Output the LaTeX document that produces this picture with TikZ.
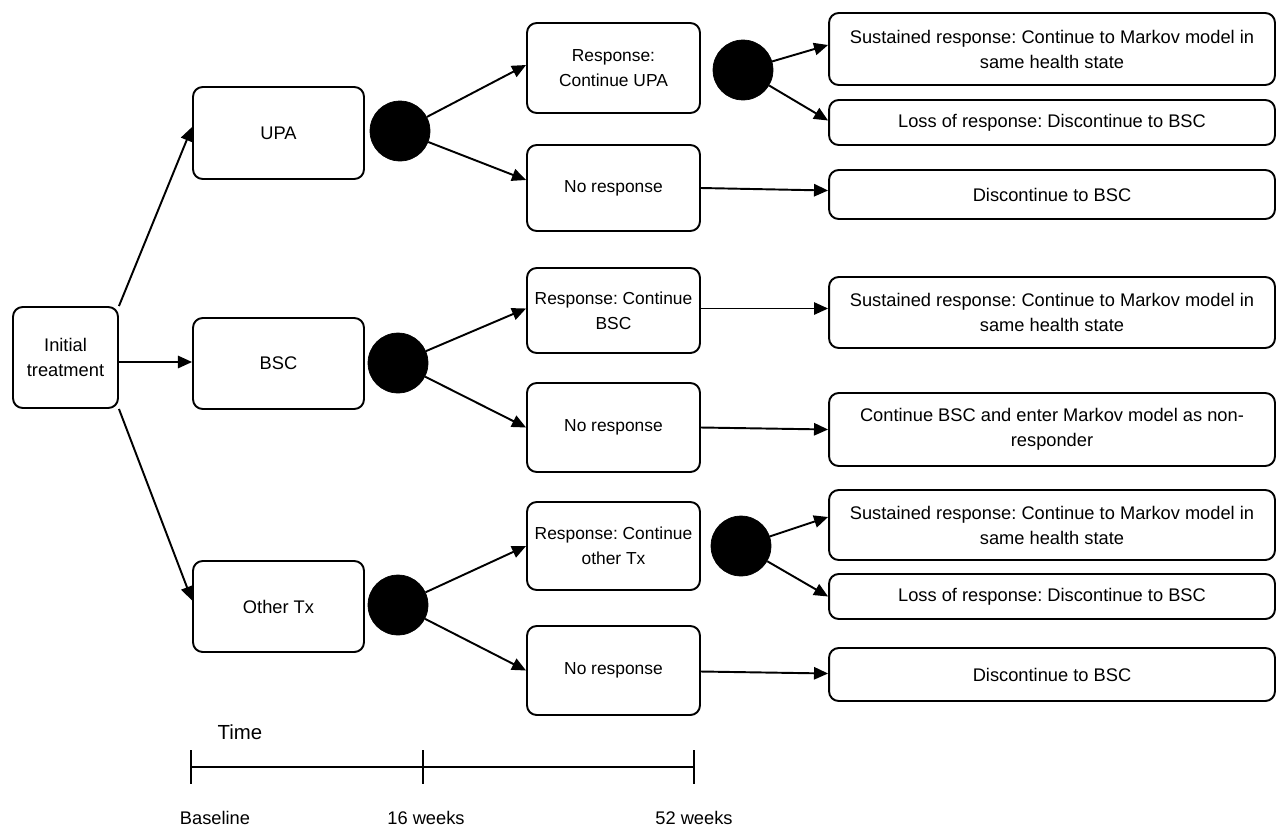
\documentclass[tikz,border=0pt]{standalone}
\usepackage{fontspec}
\setmainfont{Liberation Sans}
\frenchspacing
\usetikzlibrary{arrows.meta,calc}
\begin{document}
\begin{tikzpicture}[x=0.02cm,y=-0.02cm,
  every node/.style={font=\fontsize{10.4}{14.2}\selectfont},
  box/.style={draw,line width=1.1pt,rounded corners=5.5pt,align=center,inner sep=2pt},
  midbox/.style={box,font=\fontsize{9.9}{14.2}\selectfont},
  chance/.style={circle,fill=black,draw=black,minimum size=1.2cm,inner sep=0pt},
  arr/.style={line width=1.1pt,-{Triangle[length=8pt,width=7pt]}},
  tl/.style={line width=1.1pt}]
\useasboundingbox (0,0) rectangle (1277,829);
% first column
\node[box,minimum width=2.10cm,minimum height=2.02cm] (init) at (65.5,357.5) {Initial\\treatment};
\node[box,minimum width=3.42cm,minimum height=1.84cm] (upa) at (278.5,133) {UPA};
\node[box,minimum width=3.42cm,minimum height=1.82cm] (bsc) at (278.5,363.5) {BSC};
\node[box,minimum width=3.42cm,minimum height=1.82cm] (oth) at (278.5,606.5) {Other Tx};
% chance nodes
\node[chance] (c1) at (400,131) {};
\node[chance] (c2) at (398,363) {};
\node[chance] (c3) at (398,605) {};
\node[chance] (c4) at (743,70) {};
\node[chance] (c5) at (741,546) {};
% middle column
\node[midbox,minimum width=3.46cm,minimum height=1.80cm] (r1) at (613.5,68) {Response:\\Continue UPA};
\node[midbox,minimum width=3.46cm,minimum height=1.72cm] (n1) at (613.5,188) {No response};
\node[midbox,minimum width=3.46cm,minimum height=1.70cm] (r2) at (613.5,310.5) {Response: Continue\\BSC};
\node[midbox,minimum width=3.46cm,minimum height=1.78cm] (n2) at (613.5,427.5) {No response};
\node[midbox,minimum width=3.46cm,minimum height=1.76cm] (r3) at (613.5,546) {Response: Continue\\other Tx};
\node[midbox,minimum width=3.46cm,minimum height=1.78cm] (n3) at (613.5,670.5) {No response};
% right column
\node[box,minimum width=8.92cm,minimum height=1.44cm] (s1) at (1052,49) {Sustained response: Continue to Markov model in\\same health state};
\node[box,minimum width=8.92cm,minimum height=0.90cm] (l1) at (1052,122.5) {Loss of response: Discontinue to BSC};
\node[box,minimum width=8.92cm,minimum height=0.98cm] (d1) at (1052,194.5) {Discontinue to BSC};
\node[box,minimum width=8.92cm,minimum height=1.42cm] (s2) at (1052,312.5) {Sustained response: Continue to Markov model in\\same health state};
\node[box,minimum width=8.92cm,minimum height=1.46cm] (cb) at (1052,429.5) {Continue BSC and enter Markov model as non-\\responder};
\node[box,minimum width=8.92cm,minimum height=1.40cm] (s3) at (1052,525) {Sustained response: Continue to Markov model in\\same health state};
\node[box,minimum width=8.92cm,minimum height=0.90cm] (l3) at (1052,596.5) {Loss of response: Discontinue to BSC};
\node[box,minimum width=8.92cm,minimum height=1.06cm] (d3) at (1052,674.5) {Discontinue to BSC};
% connectors
\draw[arr] (init.north east) -- ($(upa.west)+(0,-6)$);
\draw[arr] ($(init.east)+(0,4.5)$) -- ($(bsc.west)+(0,-1.5)$);
\draw[arr] (init.south east) -- ($(oth.west)+(0,-6)$);
\draw[arr] (c1) -- ($(r1.west)+(0,-3)$);
\draw[arr] (c1) -- ($(n1.west)+(0,-8)$);
\draw[arr] (c2) -- ($(r2.west)+(0,-2)$);
\draw[arr] (c2) -- (n2.west);
\draw[arr] (c3) -- (r3.west);
\draw[arr] (c3) -- (n3.west);
\draw[arr] (c4) -- ($(s1.west)+(0,-4)$);
\draw[arr] (c4) -- ($(l1.west)+(0,-2)$);
\draw[arr] (c5) -- ($(s3.west)+(0,-8)$);
\draw[arr] (c5) -- (l3.west);
\draw[arr] (n1.east) -- ($(d1.west)+(0,-4)$);
\draw[arr] ($(r2.east)+(0,-2)$) -- ($(s2.west)+(0,-4)$);
\draw[arr] (n2.east) -- (cb.west);
\draw[arr] ($(n3.east)+(0,1)$) -- ($(d3.west)+(0,-1)$);
% timeline
\coordinate (t0) at (191,767);
\coordinate (t1) at (423,767);
\coordinate (t2) at (694,767);
\draw[tl] (t0) -- (t2);
\draw[tl] ($(t0)+(0,-17)$) -- ($(t0)+(0,17)$);
\draw[tl] ($(t1)+(0,-17)$) -- ($(t1)+(0,17)$);
\draw[tl] ($(t2)+(0,-17)$) -- ($(t2)+(0,17)$);
\node (time) at (240,732) {\fontsize{11.6}{13}\selectfont Time};
\node (lb0) at (215,818) {Baseline};
\node (lb1) at (426,818) {16 weeks};
\node (lb2) at (694,818) {52 weeks};
\end{tikzpicture}
\end{document}
